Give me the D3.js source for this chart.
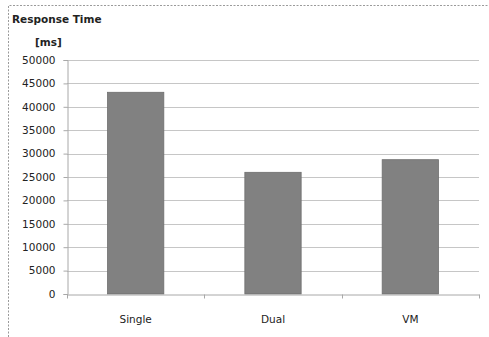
<!DOCTYPE html>
<html><head><meta charset="utf-8">
<script src="https://cdn.jsdelivr.net/npm/d3@7"></script>
<style>body{margin:0;background:#fff}svg{display:block}</style>
</head><body>
<script>
const categories = ["Single", "Dual", "VM"];
const values = [43100, 26000, 28700];
const yTicks = [0, 5000, 10000, 15000, 20000, 25000, 30000, 35000, 40000, 45000, 50000];
const titleLines = ["Response Time", "[ms]"];

const W = 489, H = 337;
const m = {left: 67, right: 10, top: 60, bottom: 43};
const svg = d3.select("body").append("svg").attr("width", W).attr("height", H);

// dotted frame
svg.append("path").attr("d", `M8.5,${H} L8.5,5.5 L${W},5.5`)
  .attr("fill", "none").attr("stroke", "#9a9a9a").attr("stroke-width", 1).attr("stroke-dasharray", "2,1.5");

const x = d3.scaleBand().domain(categories).range([m.left, W - m.right]).paddingInner(0.59).paddingOuter(0.295);
const y = d3.scaleLinear().domain([0, 50000]).range([H - m.bottom, m.top]);

// gridlines
svg.append("g").selectAll("line").data(yTicks.filter(d => d > 0)).join("line")
  .attr("x1", m.left).attr("x2", W - m.right)
  .attr("y1", d => Math.round(y(d)) + 0.5).attr("y2", d => Math.round(y(d)) + 0.5)
  .attr("stroke", "#c6c6c6").attr("stroke-width", 1.2);

// bars
svg.append("g").selectAll("rect").data(categories).join("rect")
  .attr("x", d => x(d)).attr("width", x.bandwidth())
  .attr("y", (d, i) => y(values[i])).attr("height", (d, i) => y(0) - y(values[i]))
  .attr("fill", "#818181").attr("stroke", "#6e6e6e").attr("stroke-width", 0.8);

// y axis
const ya = svg.append("g").attr("transform", `translate(${m.left + 0.5},0)`)
  .call(d3.axisLeft(y).tickValues(yTicks).tickSize(4).tickPadding(8).tickFormat(d3.format("d")));
ya.select(".domain").attr("stroke", "#a8a8a8");
ya.selectAll(".tick line").attr("stroke", "#a8a8a8");
ya.selectAll("text").attr("font-family", "DejaVu Sans").attr("font-size", 10.5).attr("fill", "#222");

// x axis
const step = x.step();
const bounds = d3.range(categories.length + 1).map(i => m.left + x.paddingOuter() * step - x.paddingInner() * step / 2 + i * step);
const xa = svg.append("g").attr("transform", `translate(0,${Math.round(y(0)) + 0.5})`)
  .call(d3.axisBottom(x).tickSize(0).tickPadding(21));
xa.select(".domain").attr("stroke", "#a8a8a8");
xa.selectAll("text").attr("font-family", "DejaVu Sans").attr("font-size", 10.5).attr("fill", "#222");
xa.selectAll(".bnd").data(bounds).join("line").attr("class", "bnd")
  .attr("x1", d => Math.round(d) + 0.5).attr("x2", d => Math.round(d) + 0.5)
  .attr("y1", 0).attr("y2", 4).attr("stroke", "#a8a8a8");

// axis title
svg.append("text").attr("x", 12).attr("y", 23).text(titleLines[0])
  .attr("font-family", "DejaVu Sans").attr("font-weight", "bold").attr("font-size", 10.5).attr("fill", "#222");
svg.append("text").attr("x", 35).attr("y", 46).text(titleLines[1])
  .attr("font-family", "DejaVu Sans").attr("font-weight", "bold").attr("font-size", 10.5).attr("fill", "#222");
</script>
</body></html>
